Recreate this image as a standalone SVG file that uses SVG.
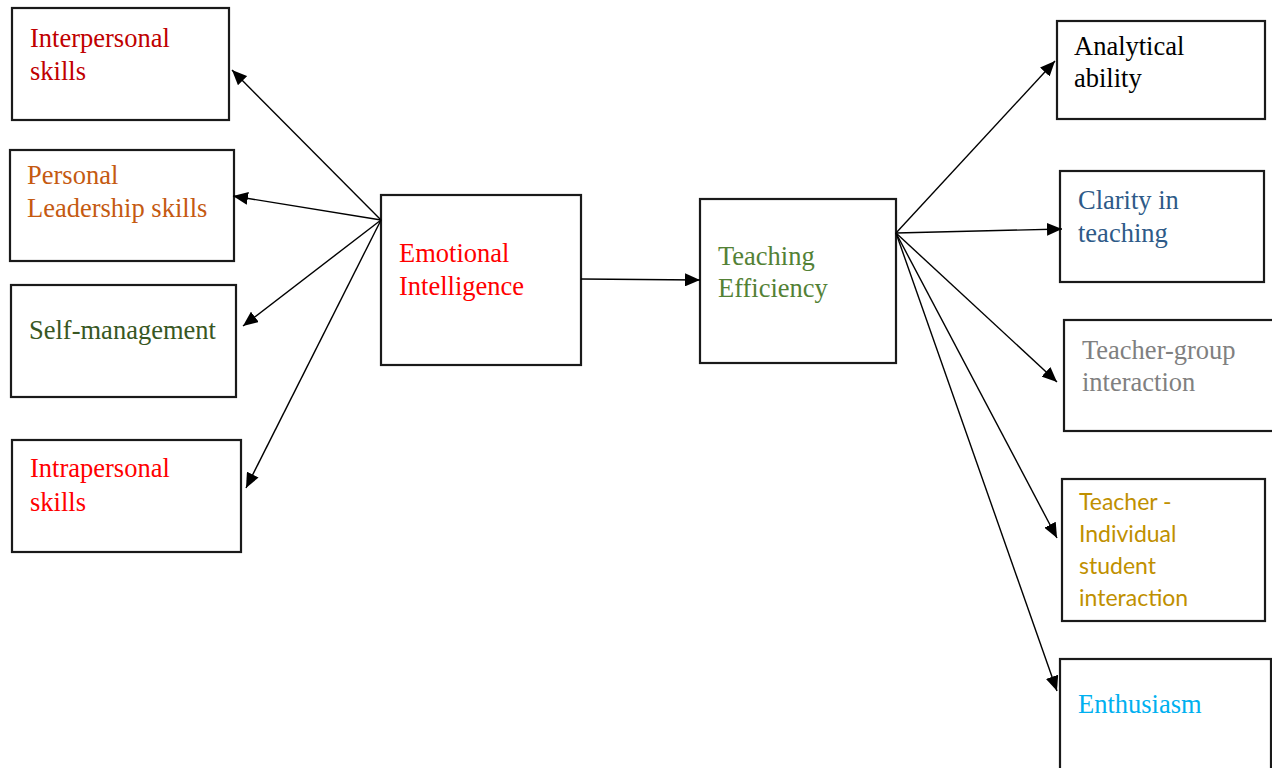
<svg xmlns="http://www.w3.org/2000/svg" width="1272" height="768" viewBox="0 0 1272 768">
<defs>
<marker id="ah" markerUnits="userSpaceOnUse" markerWidth="16" markerHeight="13" refX="15" refY="6.5" orient="auto">
<path d="M0,0 L15,6.5 L0,13 z" fill="#000"/>
</marker>
<style>
.box{fill:#fff;stroke:#1a1a1a;stroke-width:2.2}
.t{font-family:"Liberation Serif","Times New Roman",serif;font-size:26.5px}
.s{font-family:Lato,"Liberation Sans",sans-serif;font-size:23px}
.c line{stroke:#000;stroke-width:1.4;marker-end:url(#ah)}
</style>
</defs>
<rect width="1272" height="768" fill="#fff"/>
<g id="interpersonal"><rect class="box" x="12" y="8" width="217" height="112"/><text class="t" fill="#C00000"><tspan x="30" y="47">Interpersonal</tspan><tspan x="30" y="80">skills</tspan></text></g>
<g id="personal-leadership"><rect class="box" x="10" y="150" width="224" height="111"/><text class="t" fill="#C55A11"><tspan x="27" y="184">Personal</tspan><tspan x="27" y="217">Leadership skills</tspan></text></g>
<g id="self-management"><rect class="box" x="11" y="285" width="225" height="112"/><text class="t" fill="#385723" x="29" y="339">Self-management</text></g>
<g id="intrapersonal"><rect class="box" x="12" y="440" width="229" height="112"/><text class="t" fill="#FF0000"><tspan x="30" y="477">Intrapersonal</tspan><tspan x="30" y="511">skills</tspan></text></g>
<g id="emotional-intelligence"><rect class="box" x="381" y="195" width="200" height="170"/><text class="t" fill="#FF0000"><tspan x="399" y="262">Emotional</tspan><tspan x="399" y="295">Intelligence</tspan></text></g>
<g id="teaching-efficiency"><rect class="box" x="700" y="199" width="196" height="164"/><text class="t" fill="#538135"><tspan x="718" y="265">Teaching</tspan><tspan x="718" y="297">Efficiency</tspan></text></g>
<g id="analytical"><rect class="box" x="1057" y="21" width="208" height="98"/><text class="t" fill="#000"><tspan x="1074" y="55">Analytical</tspan><tspan x="1074" y="87">ability</tspan></text></g>
<g id="clarity"><rect class="box" x="1060" y="171" width="204" height="111"/><text class="t" fill="#2E5A88"><tspan x="1078" y="209">Clarity in</tspan><tspan x="1078" y="242">teaching</tspan></text></g>
<g id="teacher-group"><rect class="box" x="1064" y="320" width="220" height="111"/><text class="t" fill="#808080"><tspan x="1082" y="359">Teacher-group</tspan><tspan x="1082" y="391">interaction</tspan></text></g>
<g id="teacher-individual"><rect class="box" x="1062" y="479" width="203" height="142"/><text class="s" fill="#BF9000"><tspan x="1079" y="510">Teacher -</tspan><tspan x="1079" y="542">Individual</tspan><tspan x="1079" y="574">student</tspan><tspan x="1079" y="606">interaction</tspan></text></g>
<g id="enthusiasm"><rect class="box" x="1060" y="659" width="211" height="130"/><text class="t" fill="#00B0F0" x="1078" y="713">Enthusiasm</text></g>
<g id="connectors" class="c">
<line x1="381" y1="220" x2="232" y2="70"/>
<line x1="381" y1="220" x2="233" y2="196"/>
<line x1="381" y1="220" x2="243" y2="326"/>
<line x1="381" y1="220" x2="246" y2="488"/>
<line x1="581" y1="279" x2="700" y2="280"/>
<line x1="896" y1="233" x2="1055" y2="61"/>
<line x1="896" y1="233" x2="1062" y2="229"/>
<line x1="896" y1="233" x2="1057" y2="382"/>
<line x1="896" y1="233" x2="1057" y2="538"/>
<line x1="896" y1="233" x2="1057" y2="691"/>
</g>
</svg>
